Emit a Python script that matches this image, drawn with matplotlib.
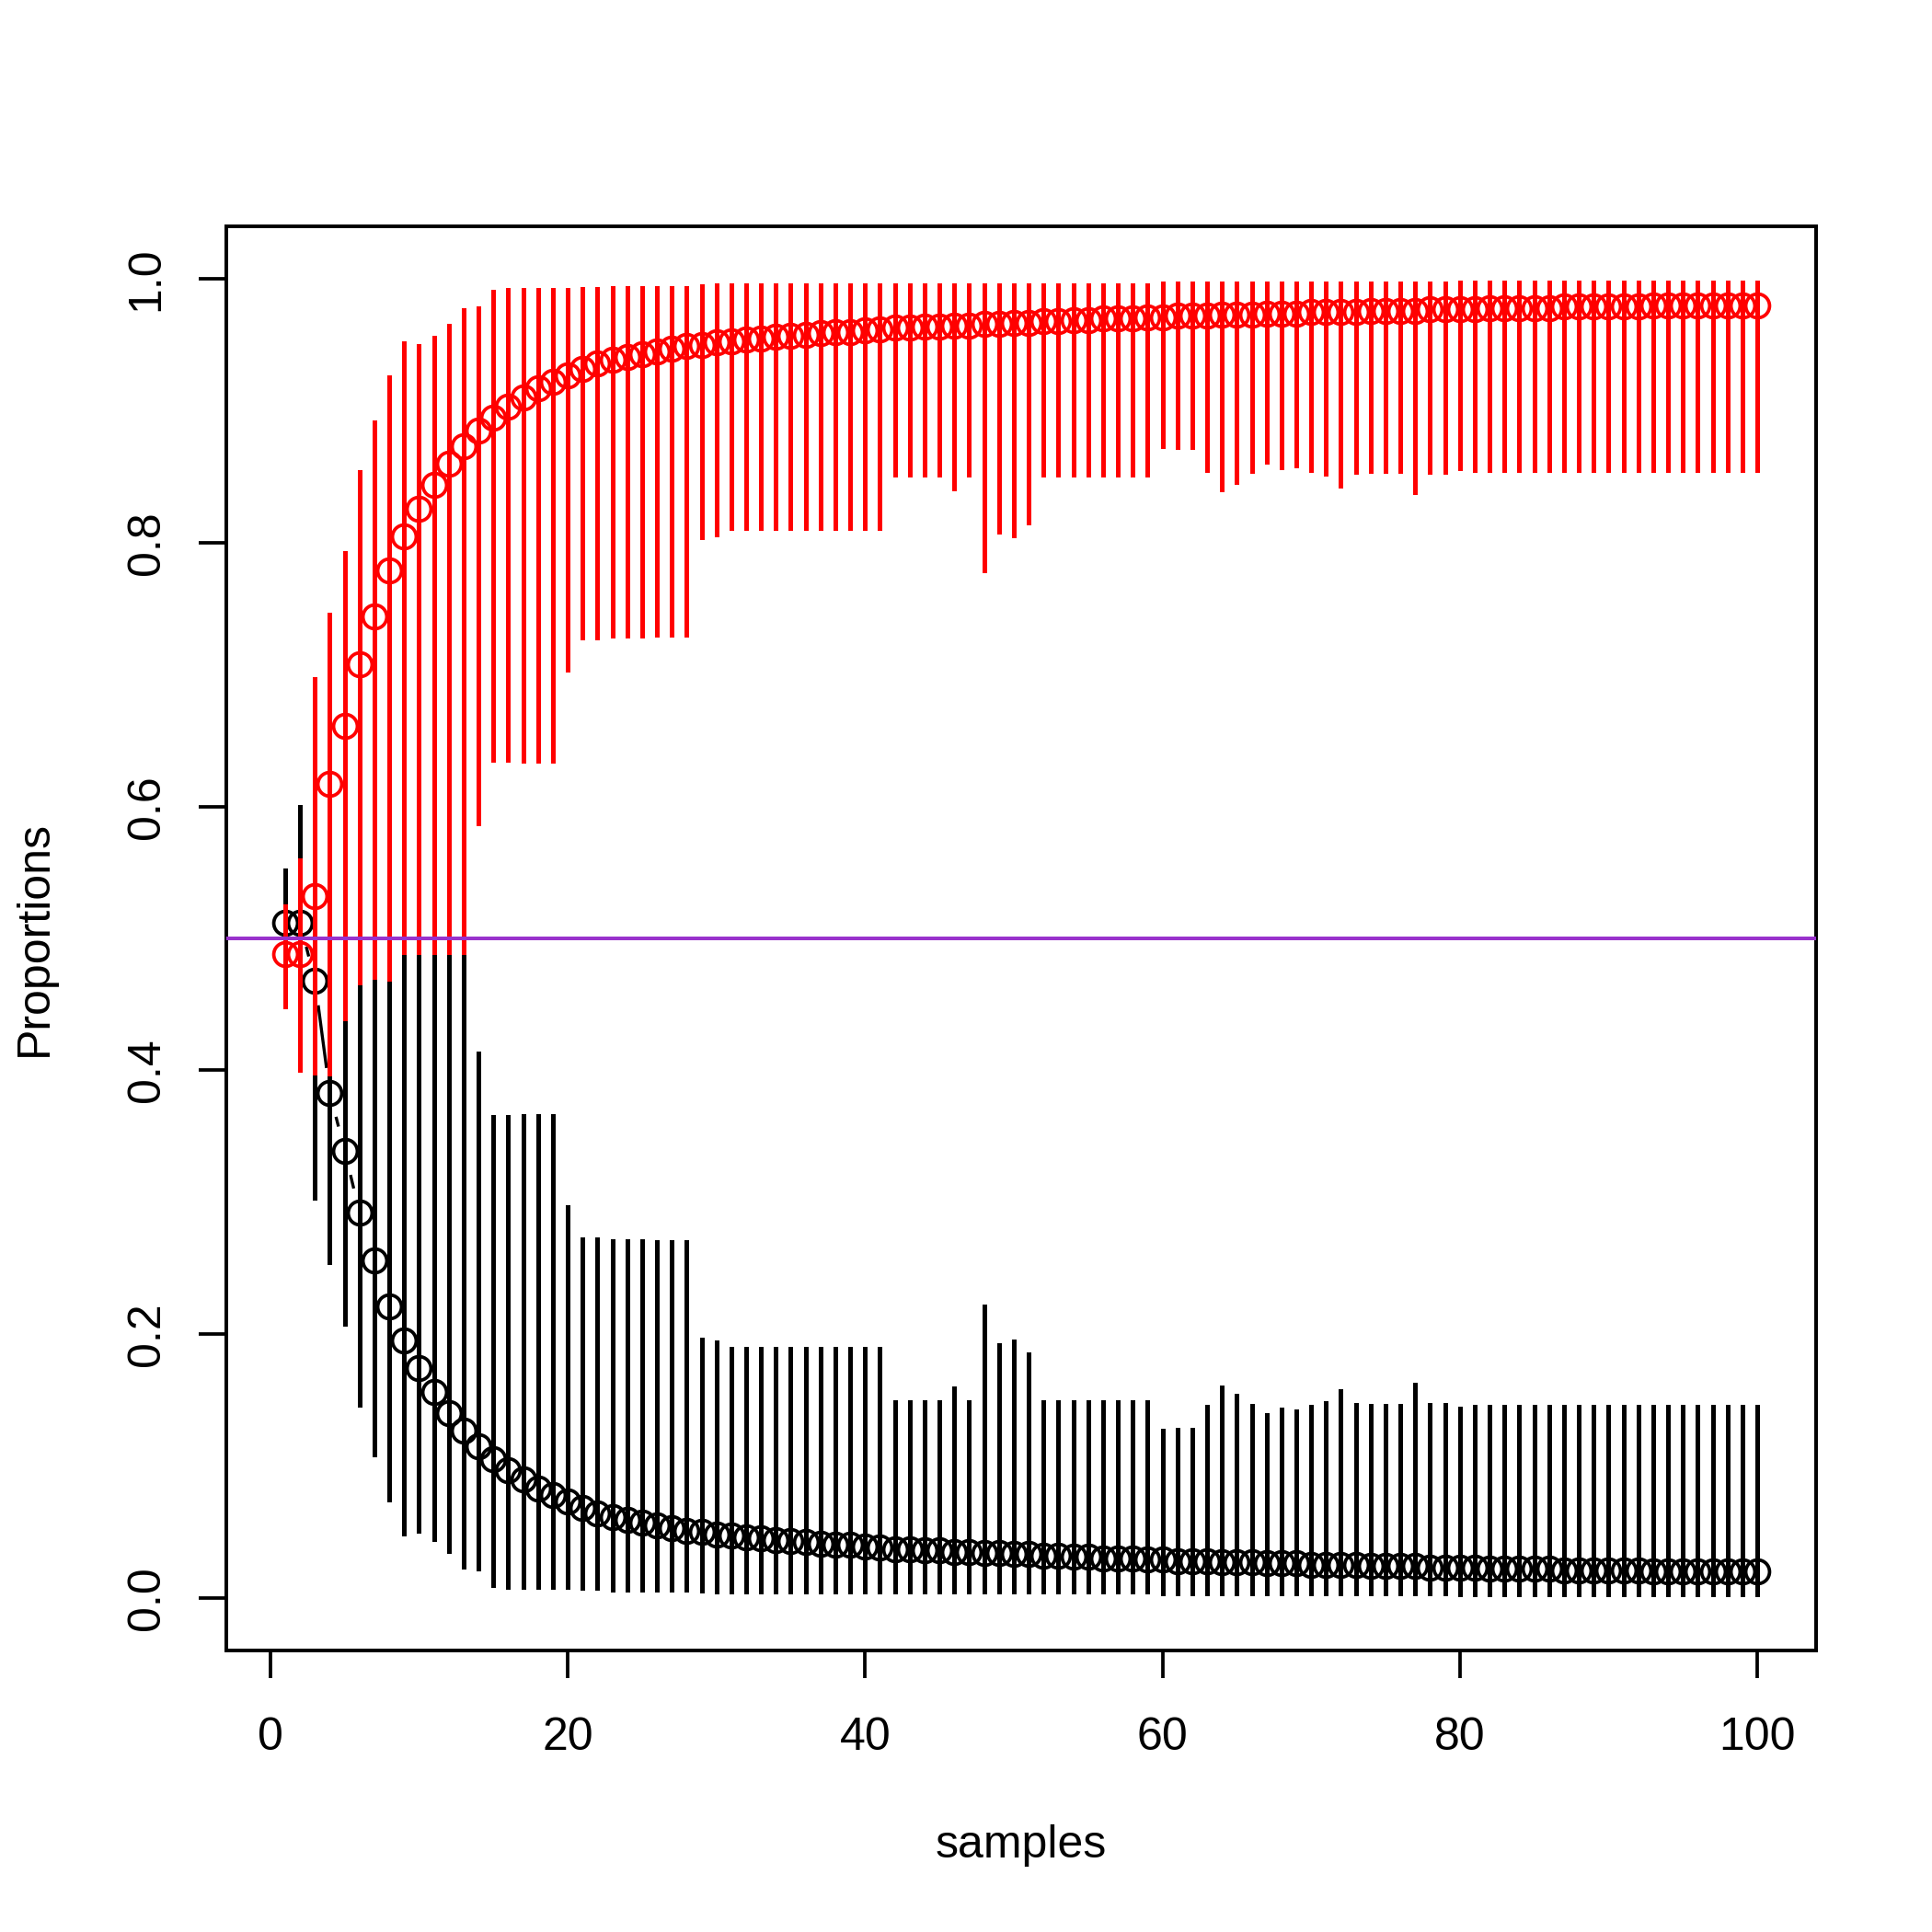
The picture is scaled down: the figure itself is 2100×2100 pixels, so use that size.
import numpy as np
import matplotlib
matplotlib.use("Agg")
import matplotlib.pyplot as plt
from matplotlib.collections import LineCollection

plt.rcParams['font.family'] = ['Liberation Sans', 'DejaVu Sans']

# samples 1..100
samples = list(range(1, 101))

# black series: proportion and its interval
black_mid = [0.512, 0.512, 0.468, 0.383, 0.339, 0.292, 0.256, 0.221, 0.195, 0.174,
             0.156, 0.140, 0.127, 0.115, 0.105, 0.097, 0.090, 0.083, 0.078, 0.073,
             0.068, 0.064, 0.061, 0.059, 0.057, 0.055, 0.053, 0.051, 0.050, 0.048,
             0.047, 0.046, 0.045, 0.044, 0.043, 0.042, 0.041, 0.040, 0.040, 0.039,
             0.038, 0.037, 0.037, 0.036, 0.036, 0.035, 0.035, 0.034, 0.034, 0.033,
             0.033, 0.032, 0.032, 0.031, 0.031, 0.030, 0.030, 0.030, 0.029, 0.029,
             0.028, 0.028, 0.028, 0.027, 0.027, 0.027, 0.026, 0.026, 0.026, 0.025,
             0.025, 0.025, 0.025, 0.024, 0.024, 0.024, 0.024, 0.023, 0.023, 0.023,
             0.023, 0.022, 0.022, 0.022, 0.022, 0.022, 0.021, 0.021, 0.021, 0.021,
             0.021, 0.021, 0.020, 0.020, 0.020, 0.020, 0.020, 0.020, 0.020, 0.020]
black_hi = ([0.553, 0.601, 0.603, 0.604, 0.562, 0.535, 0.531, 0.532, 0.512, 0.512,
             0.512, 0.512, 0.512, 0.414, 0.366, 0.366, 0.367, 0.367, 0.367, 0.298,
             0.273, 0.273, 0.272, 0.272, 0.272, 0.271, 0.271, 0.271, 0.197, 0.195]
            + [0.190] * 11
            + [0.150, 0.150, 0.150, 0.150, 0.160, 0.150, 0.222, 0.193, 0.196, 0.186]
            + [0.150] * 8
            + [0.128, 0.129, 0.129, 0.146, 0.161, 0.155, 0.147, 0.140, 0.144, 0.143,
               0.146, 0.149, 0.158, 0.148, 0.147, 0.147, 0.147, 0.163, 0.148, 0.148,
               0.145]
            + [0.146] * 20)
black_lo = ([0.474, 0.439, 0.302, 0.253, 0.206, 0.145, 0.107, 0.073, 0.047, 0.049,
             0.043, 0.034, 0.022, 0.021, 0.008, 0.007, 0.007, 0.007, 0.007, 0.007,
             0.006, 0.006, 0.005, 0.005, 0.005, 0.005, 0.005, 0.005, 0.004]
            + [0.003] * 30
            + [0.002] * 20
            + [0.001] * 21)

# red series: proportion and its interval
red_mid = [0.488, 0.488, 0.532, 0.617, 0.661, 0.708, 0.744, 0.779, 0.805, 0.826,
           0.844, 0.860, 0.873, 0.885, 0.895, 0.903, 0.910, 0.917, 0.922, 0.927,
           0.932, 0.936, 0.939, 0.941, 0.943, 0.945, 0.947, 0.949, 0.950, 0.952,
           0.953, 0.954, 0.955, 0.956, 0.957, 0.958, 0.959, 0.960, 0.960, 0.961,
           0.962, 0.963, 0.963, 0.964, 0.964, 0.965, 0.965, 0.966, 0.966, 0.967,
           0.967, 0.968, 0.968, 0.969, 0.969, 0.970, 0.970, 0.970, 0.971, 0.971,
           0.972, 0.972, 0.972, 0.973, 0.973, 0.973, 0.974, 0.974, 0.974, 0.975,
           0.975, 0.975, 0.975, 0.976, 0.976, 0.976, 0.976, 0.977, 0.977, 0.977,
           0.977, 0.978, 0.978, 0.978, 0.978, 0.978, 0.979, 0.979, 0.979, 0.979,
           0.979, 0.979, 0.980, 0.980, 0.980, 0.980, 0.980, 0.980, 0.980, 0.980]
red_lo = ([0.447, 0.399, 0.397, 0.396, 0.438, 0.465, 0.469, 0.468, 0.488, 0.488,
           0.488, 0.488, 0.488, 0.586, 0.634, 0.634, 0.633, 0.633, 0.633, 0.702,
           0.727, 0.727, 0.728, 0.728, 0.728, 0.729, 0.729, 0.729, 0.803, 0.805]
          + [0.810] * 11
          + [0.850, 0.850, 0.850, 0.850, 0.840, 0.850, 0.778, 0.807, 0.804, 0.814]
          + [0.850] * 8
          + [0.872, 0.871, 0.871, 0.854, 0.839, 0.845, 0.853, 0.860, 0.856, 0.857,
             0.854, 0.851, 0.842, 0.852, 0.853, 0.853, 0.853, 0.837, 0.852, 0.852,
             0.855]
          + [0.854] * 20)
red_hi = ([0.526, 0.561, 0.698, 0.747, 0.794, 0.855, 0.893, 0.927, 0.953, 0.951,
           0.957, 0.966, 0.978, 0.979, 0.992, 0.993, 0.993, 0.993, 0.993, 0.993,
           0.994, 0.994, 0.995, 0.995, 0.995, 0.995, 0.995, 0.995, 0.996]
          + [0.997] * 30
          + [0.998] * 20
          + [0.999] * 21)

ref_level = 0.5

W = 2100
L = 60  # one margin line in pixels
fig = plt.figure(figsize=(7, 7), dpi=300)
left, right, top, bottom = 4.1 * L, W - 2.1 * L, 4.1 * L, W - 5.1 * L
ax = fig.add_axes([left / W, 5.1 * L / W, (right - left) / W, (bottom - top) / W])
ax.set_xlim(1 - 0.04 * 99, 100 + 0.04 * 99)
ax.set_ylim(-0.04, 1.04)

lw = 0.8
ms = 6.2

# black points + gapped connecting lines (like R type="b")
ax.plot(samples, black_mid, ls='none', marker='o', ms=ms, mfc='none',
        mec='black', mew=0.9, zorder=3)
pts = ax.transData.transform(np.column_stack([samples, black_mid]))
gap = 6.5 / 72 * 300
segs = []
for i in range(len(pts) - 1):
    p, q = pts[i], pts[i + 1]
    d = np.hypot(*(q - p))
    if d > 2 * gap:
        u = (q - p) / d
        segs.append(ax.transData.inverted().transform([p + u * gap, q - u * gap]))
ax.add_collection(LineCollection(segs, colors='black', linewidths=lw, zorder=3))
ax.vlines(samples, black_lo, black_hi, colors='black', lw=lw,
          antialiased=False, zorder=3)

# red points and bars
ax.plot(samples, red_mid, ls='none', marker='o', ms=ms, mfc='none',
        mec='red', mew=0.9, zorder=4)
ax.vlines(samples, red_lo, red_hi, colors='red', lw=lw,
          antialiased=False, zorder=4)

ax.axhline(ref_level, color='#9932CC', lw=0.95, antialiased=False, zorder=5)

ax.set_xticks([0, 20, 40, 60, 80, 100])
ax.set_yticks([0.0, 0.2, 0.4, 0.6, 0.8, 1.0])
ax.set_yticklabels(["0.0", "0.2", "0.4", "0.6", "0.8", "1.0"], rotation=90, va='center')
ax.tick_params(direction='out', length=7.2, width=0.9, labelsize=12, color='black')
ax.tick_params(axis='x', pad=10)
ax.tick_params(axis='y', pad=8)
for s in ax.spines.values():
    s.set_linewidth(0.95)

fig.text((left + right) / 2 / W, 1 - 2006 / W, "samples", ha='center', va='center', fontsize=12)
fig.text(37.5 / W, 1 - (top + bottom) / 2 / W, "Proportions", ha='center', va='center',
         rotation=90, fontsize=12)

fig.savefig("out.png", dpi=300)
